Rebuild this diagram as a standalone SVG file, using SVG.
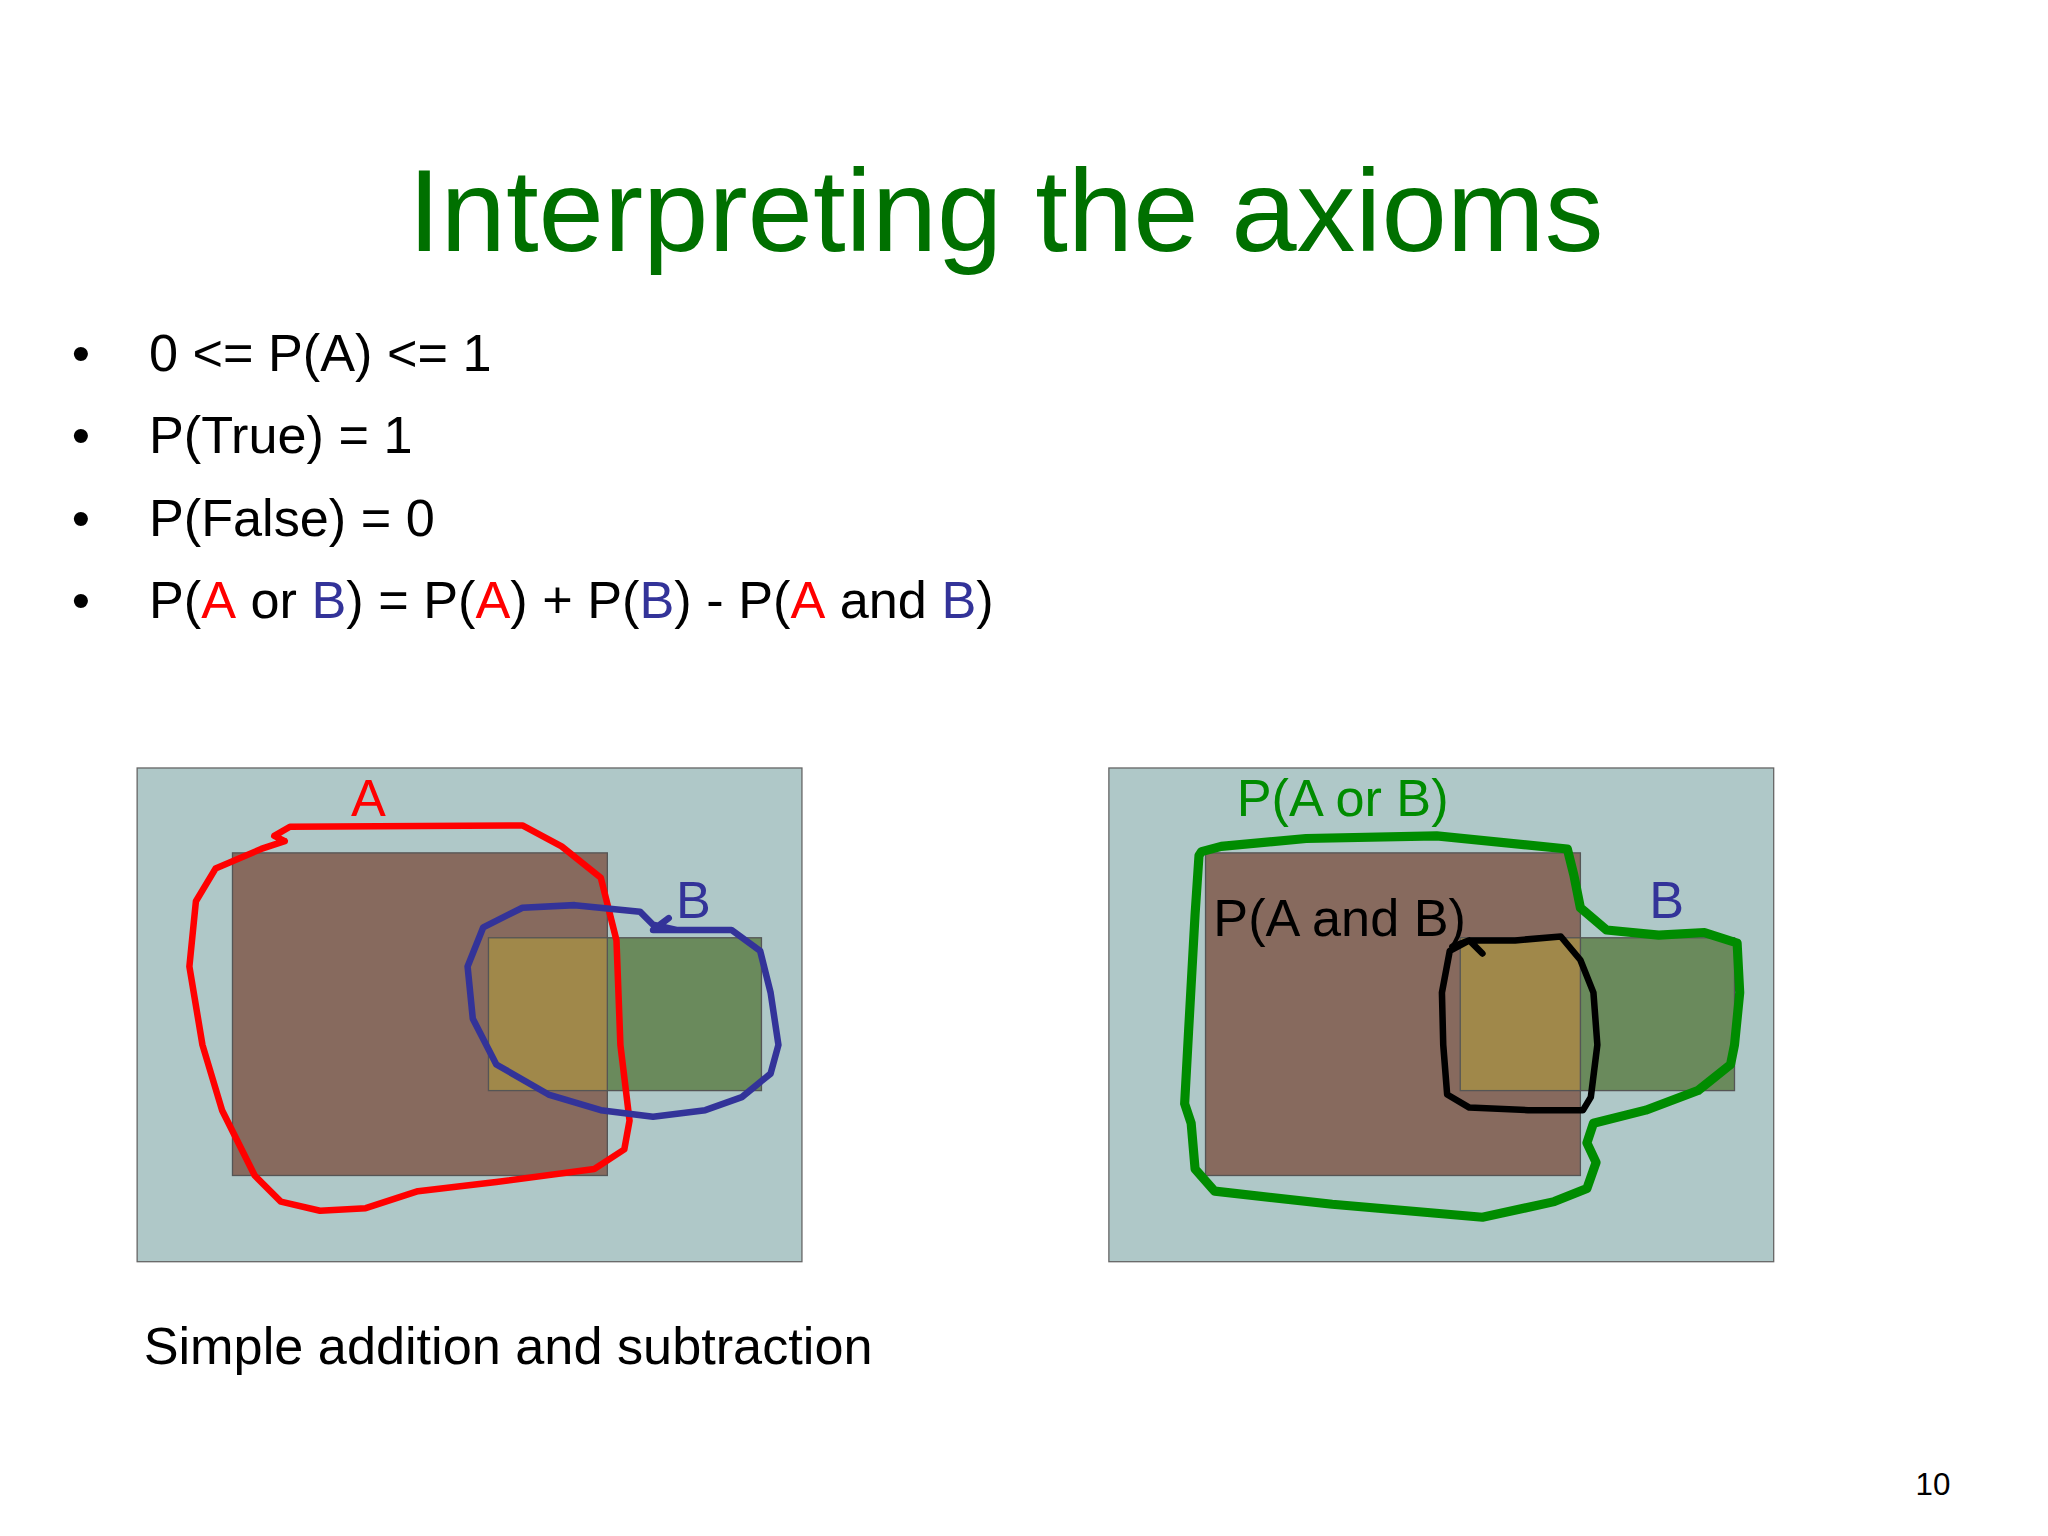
<svg xmlns="http://www.w3.org/2000/svg" width="2048" height="1536" viewBox="0 0 2048 1536">
<style>
text{font-family:"Liberation Sans",Arial,sans-serif}
.b{font-size:40px;fill:#000}
.r{fill:#ff0000}.u{fill:#333399}
.panel{fill:#afc8c8;stroke:#666;stroke-width:1}
.ra{fill:#876a5e;stroke:#555;stroke-width:1}
.rb{fill:#6a8a5c;stroke:#555;stroke-width:1}
.ri{fill:#a0884a;stroke:#555;stroke-width:1}
.ln{fill:none;stroke-linejoin:round;stroke-linecap:round}
</style>
<rect width="2048" height="1536" fill="#fff"/>
<g transform="scale(1.3061)">
<text x="770" y="192" font-size="90" fill="#007000" text-anchor="middle">Interpreting the axioms</text>
<g id="bullets" class="b">
<text x="55" y="284">•</text><text x="114" y="284">0 &lt;= P(A) &lt;= 1</text>
<text x="55" y="347">•</text><text x="114" y="347">P(True) = 1</text>
<text x="55" y="410">•</text><text x="114" y="410">P(False) = 0</text>
<text x="55" y="473">•</text><text x="114" y="473">P(<tspan class="r">A</tspan> or <tspan class="u">B</tspan>) = P(<tspan class="r">A</tspan>) + P(<tspan class="u">B</tspan>) - P(<tspan class="r">A</tspan> and <tspan class="u">B</tspan>)</text>
</g>
<g id="left">
<rect class="panel" x="105" y="588" width="509" height="378"/>
<rect class="ra" x="178" y="653" width="287" height="247"/>
<rect class="rb" x="465" y="718" width="118" height="117"/>
<rect class="ri" x="374" y="718" width="91" height="117"/>
<text x="282" y="625" font-size="40" class="r" text-anchor="middle">A</text>
<text x="531" y="703" font-size="40" class="u" text-anchor="middle">B</text>
<path class="ln" stroke="#ff0000" stroke-width="5" d="M218,644 L210,640 L222,633 L400,632 L430,648 L460,672 L472,720 L475,800 L482,858 L478,880 L455,895 L380,905 L320,912 L280,925 L245,927 L215,920 L195,900 L170,850 L155,800 L145,740 L150,690 L165,665 L200,650 L218,644"/>
<path class="ln" stroke="#333399" stroke-width="5" d="M518,712 L500,708 L490,698 L440,693 L400,695 L370,710 L358,740 L362,780 L380,815 L420,838 L460,850 L500,855 L540,850 L568,840 L590,822 L596,800 L590,760 L582,728 L560,712 L500,712 L512,703"/>
</g>
<g id="right">
<rect class="panel" x="849" y="588" width="509" height="378"/>
<rect class="ra" x="923" y="653" width="287" height="247"/>
<rect class="rb" x="1210" y="718" width="118" height="117"/>
<rect class="ri" x="1118" y="718" width="92" height="117"/>
<text x="1028" y="625" font-size="40" fill="#008c00" text-anchor="middle">P(A or B)</text>
<text x="1276" y="703" font-size="40" class="u" text-anchor="middle">B</text>
<text x="929" y="717" font-size="40" fill="#000">P(A and B)</text>
<path class="ln" stroke="#008c00" stroke-width="7" d="M920,652 L935,648 L1000,642 L1100,640 L1200,650 L1205,670 L1210,695 L1230,712 L1270,716 L1305,714 L1330,722 L1332,760 L1328,800 L1325,815 L1300,835 L1260,850 L1220,860 L1215,875 L1222,890 L1215,910 L1190,920 L1135,932 L1020,922 L930,912 L915,895 L912,860 L907,845 L910,790 L915,700 L918,655 Z"/>
<path class="ln" stroke="#000" stroke-width="5" d="M1112,725 L1125,720 L1160,720 L1195,717 L1210,735 L1220,760 L1223,800 L1218,840 L1212,850 L1170,850 L1125,848 L1108,838 L1105,800 L1104,760 L1110,728 L1125,720 L1135,730"/>
</g>
<text x="110" y="1044" font-size="40" fill="#000">Simple addition and subtraction</text>
<text x="1480" y="1145" font-size="24" fill="#000" text-anchor="middle">10</text>
</g>
</svg>
